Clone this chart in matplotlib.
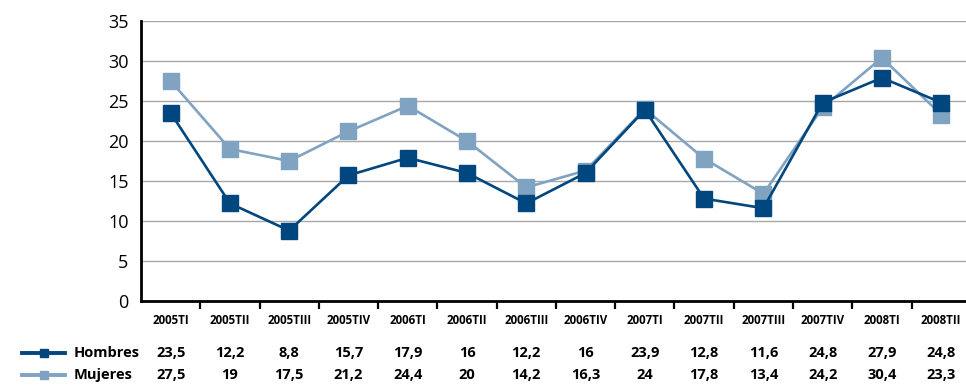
import matplotlib.pyplot as plt
import matplotlib.transforms as mtransforms
from matplotlib.lines import Line2D

# ── Data ──
periodos = ["2005TI", "2005TII", "2005TIII", "2005TIV", "2006TI", "2006TII", "2006TIII",
            "2006TIV", "2007TI", "2007TII", "2007TIII", "2007TIV", "2008TI", "2008TII"]
hombres = [23.5, 12.2, 8.8, 15.7, 17.9, 16, 12.2, 16, 23.9, 12.8, 11.6, 24.8, 27.9, 24.8]
mujeres = [27.5, 19, 17.5, 21.2, 24.4, 20, 14.2, 16.3, 24, 17.8, 13.4, 24.2, 30.4, 23.3]

col_h = "#00467f"
col_m = "#80a3c1"

plt.rcParams["font.family"] = ["Open Sans", "DejaVu Sans"]

fig = plt.figure(figsize=(9.66, 3.86), dpi=100)
ax = fig.add_axes([0.146, 0.2202, 0.859, 0.7254])

x = list(range(len(periodos)))
ax.plot(x, mujeres, color=col_m, lw=1.9, marker="s", ms=11, zorder=3)
ax.plot(x, hombres, color=col_h, lw=1.9, marker="s", ms=11, zorder=4)

ax.set_xlim(-0.5, len(periodos) - 0.5)
ax.set_ylim(0, 35)
ax.set_yticks(range(0, 36, 5))
ax.tick_params(axis="y", length=0, labelsize=13, pad=9)
ax.set_xticks([i + 0.5 for i in range(len(periodos) - 1)])
ax.set_xticklabels([])
ax.tick_params(axis="x", length=6, width=1.6, direction="out")
ax.grid(axis="y", color="#a8a8a8", lw=1)
ax.set_axisbelow(True)
for s in ["top", "right"]:
    ax.spines[s].set_visible(False)
for s in ["left", "bottom"]:
    ax.spines[s].set_linewidth(2)
    ax.spines[s].set_zorder(5)

def fmt(v):
    return f"{v:g}".replace(".", ",")

# ── Data table under the axis ──
trans = mtransforms.blended_transform_factory(ax.transData, fig.transFigure)
for i, p in enumerate(periodos):
    ax.text(i, 1 - 320 / 386, p, transform=trans, ha="center", va="center",
            fontsize=8.3, fontweight="bold", clip_on=False)
    ax.text(i, 1 - 353 / 386, fmt(hombres[i]), transform=trans, ha="center", va="center",
            fontsize=10.5, fontweight="bold", clip_on=False)
    ax.text(i, 1 - 375 / 386, fmt(mujeres[i]), transform=trans, ha="center", va="center",
            fontsize=10.5, fontweight="bold", clip_on=False)

# legend keys
for y, c, name in [(353, col_h, "Hombres"), (375, col_m, "Mujeres")]:
    yf = 1 - y / 386
    fig.add_artist(Line2D([22 / 966, 65 / 966], [yf, yf], color=c, lw=2.8,
                          transform=fig.transFigure))
    fig.add_artist(Line2D([43.5 / 966], [yf], color=c, marker="s", ms=6, lw=0,
                          transform=fig.transFigure))
    fig.text(74 / 966, yf, name, ha="left", va="center", fontsize=10.5, fontweight="bold")

fig.savefig("out.png", dpi=100)
